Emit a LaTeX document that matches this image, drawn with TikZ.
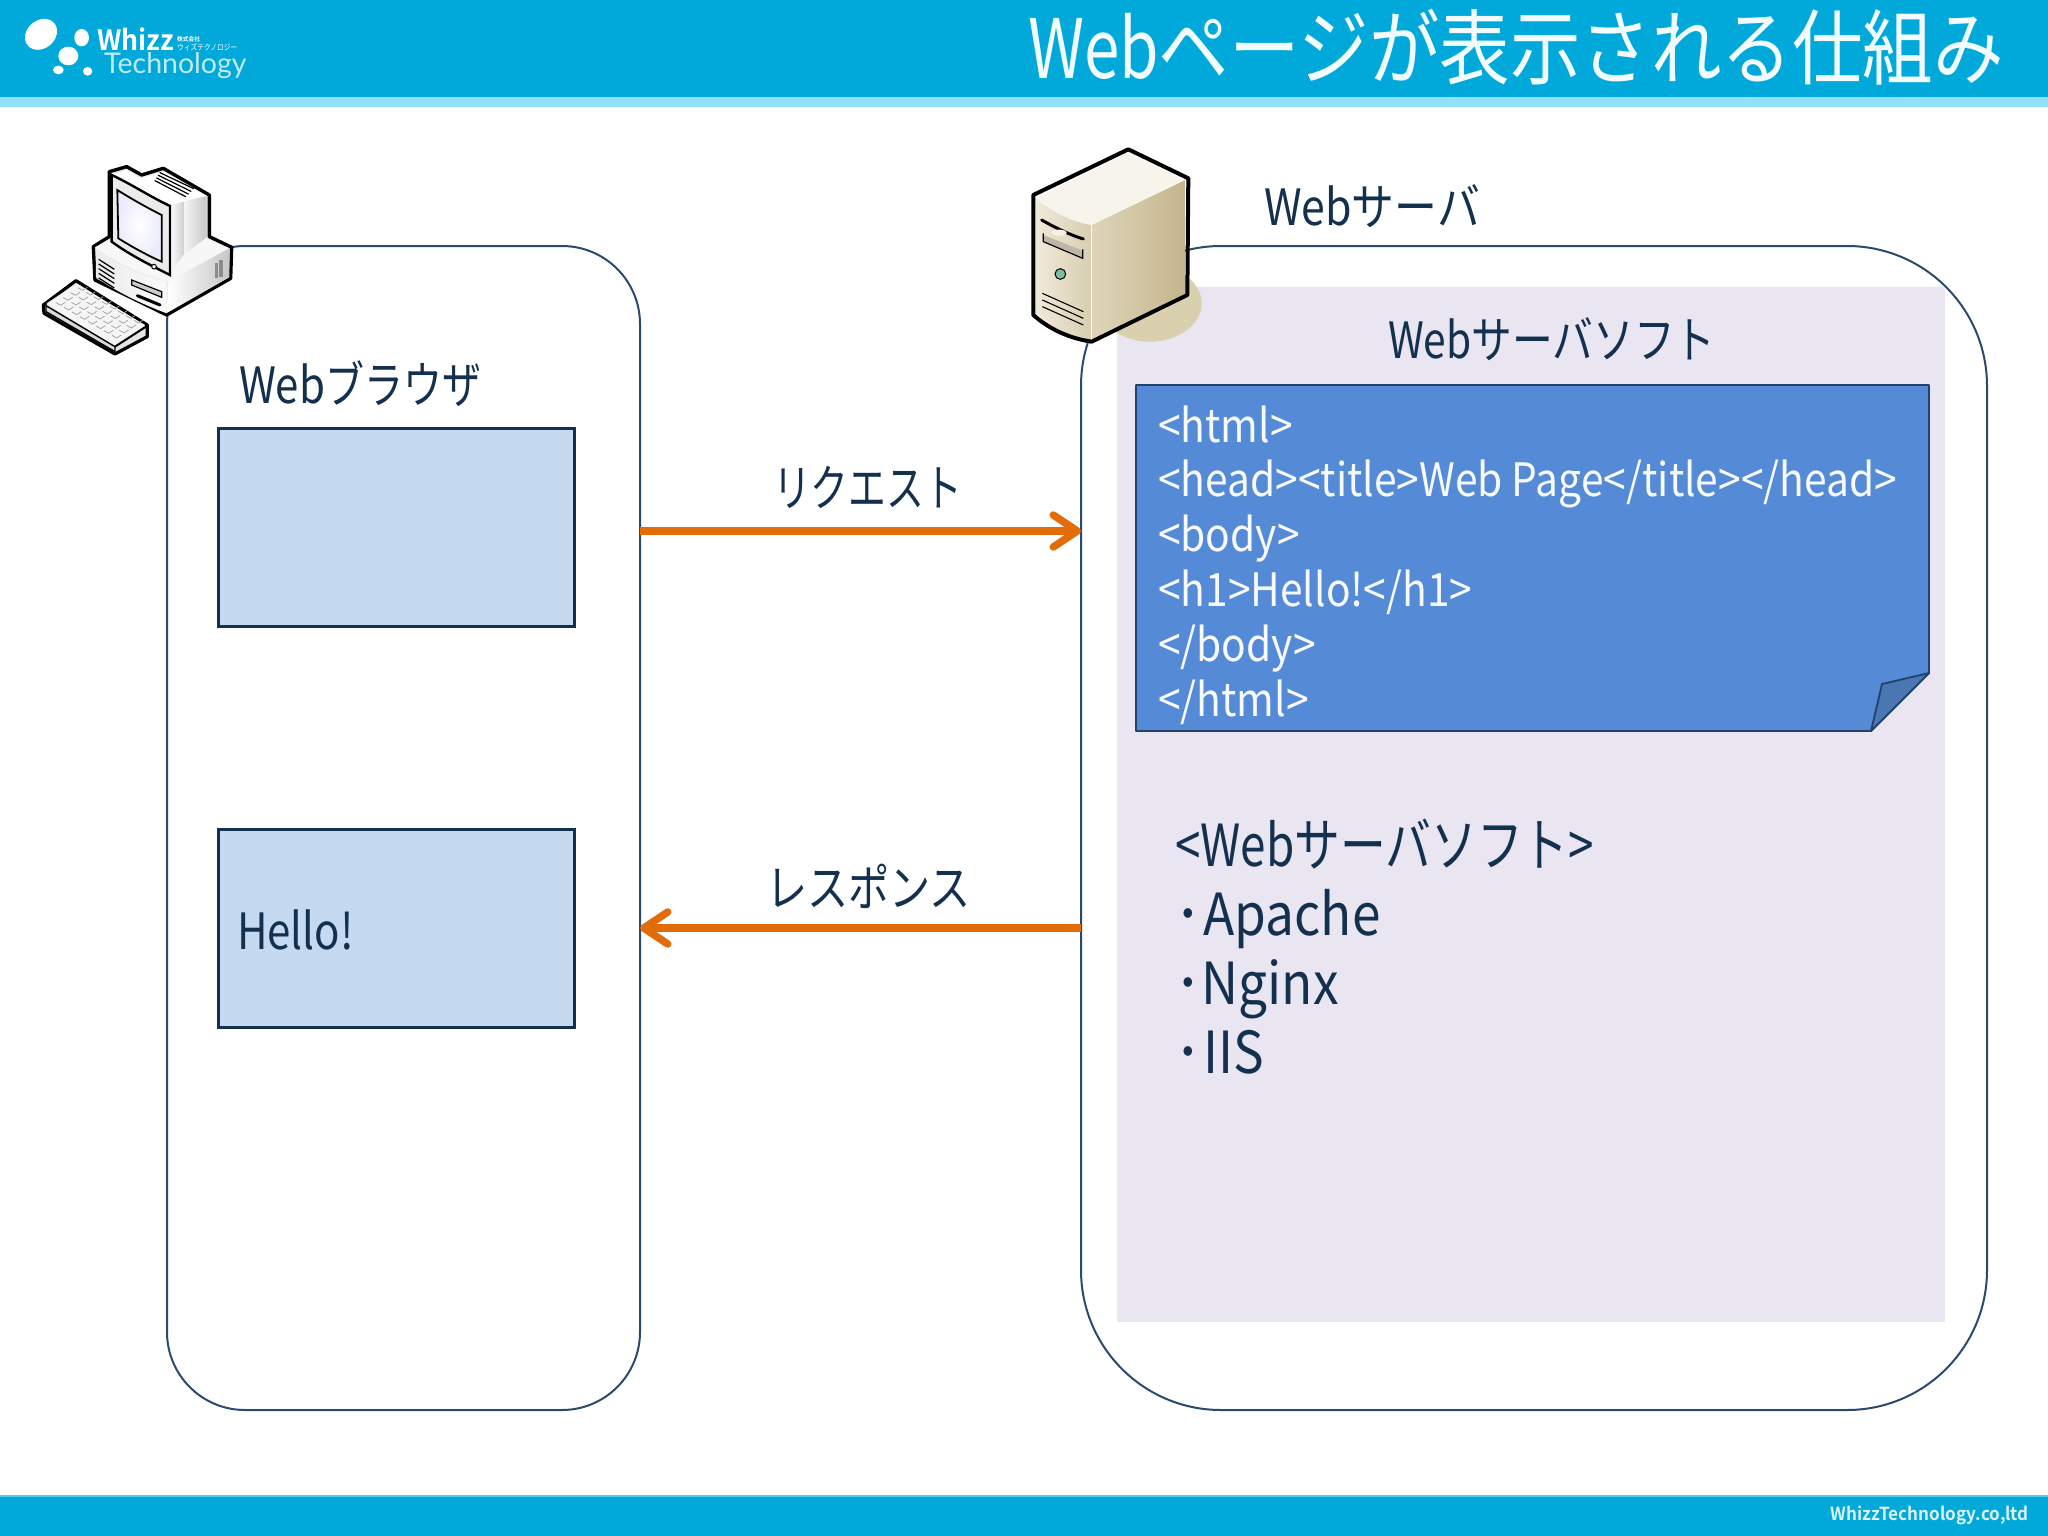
\documentclass[tikz,border=0pt]{standalone}
\usepackage{fontspec}
\usepackage{graphicx}
\usetikzlibrary{arrows.meta}
\setmainfont{Noto Sans CJK JP}
\newfontfamily\jpn[FakeStretch=0.84]{Noto Sans CJK JP}
\newfontfamily\jpk[FakeStretch=0.78]{Noto Sans CJK JP}
\newfontfamily\jpl[FakeStretch=0.76]{Noto Sans CJK JP}
\newfontfamily\jpc[FakeStretch=0.885]{Noto Sans CJK JP}
\newfontfamily\jpnb[FakeStretch=0.95]{Noto Sans CJK JP Bold}
\newfontfamily\logof{Lato}
\definecolor{hdr}{HTML}{00A9DA}
\definecolor{band}{HTML}{8FE1FF}
\definecolor{ink}{HTML}{14304F}
\definecolor{edge}{HTML}{2B4A6F}
\definecolor{lav}{HTML}{E9E6F2}
\definecolor{code}{HTML}{558BD6}
\definecolor{fold}{HTML}{4A76B2}
\definecolor{pale}{HTML}{C5D9F0}
\definecolor{org}{HTML}{E36C0A}
\tikzset{
  lab/.style={font=\jpn, text=ink, inner sep=0pt, outer sep=0pt, anchor=base west},
  zone/.style={draw=edge, line width=2pt, fill=white, inner sep=0pt, outer sep=0pt},
  pane/.style={draw=ink, line width=3pt, fill=pale, inner sep=0pt, outer sep=0pt,
    minimum width=356pt, minimum height=198pt},
  flow/.style={draw=org, line width=7.5pt, -{Straight Barb[length=24pt,width=32pt,line width=7.5pt,round]}},
  ol/.style={line width=3pt, line join=round, draw=black},
}
\begin{document}
\begin{tikzpicture}[x=1pt,y=-1pt]
\useasboundingbox (0,0) rectangle (2048,1536);
\fill[white] (0,0) rectangle (2048,1536);
% bars
\fill[hdr] (0,0) rectangle (2048,97);
\fill[band] (0,97) rectangle (2048,107);
\fill[hdr] (0,1496) rectangle (2048,1536);
\fill[band!60!hdr] (0,1495) rectangle (2048,1497);
% logo
\begin{scope}[x=0.3333pt,y=-0.3333pt]
\fill[white,rotate around={40:(123,103)}] (123,103) ellipse [x radius=52,y radius=42];
\fill[white] (245,113) ellipse [x radius=22,y radius=26];
\fill[white] (205,168) ellipse [x radius=30,y radius=28];
\fill[white] (175,210) ellipse [x radius=16,y radius=13];
\fill[white] (263,214) ellipse [x radius=14,y radius=13];
\end{scope}
\node[anchor=base west,inner sep=0pt,text=white,font=\jpnb\fontsize{28}{28}\selectfont] (whizz) at (97,51) {Whizz};
\node[anchor=base west,inner sep=0pt,text=white,font=\jpnb\fontsize{6}{6}\selectfont] (kk) at (177,42) {株式会社};
\node[anchor=base west,inner sep=0pt,text=white,font=\jpn\fontsize{8}{8}\selectfont] (kana) at (177,51) {ウィズテクノロジー};
\node[anchor=base west,inner sep=0pt,text=white!75!hdr,font=\logof\fontsize{28.5}{28.5}\selectfont] (tech) at (104,74) {Technology};
\node[lab,text=white!95!hdr,font=\jpn\fontsize{82}{82}\selectfont] (title) at (1028,79) {\scalebox{1.024}[1]{{\jpl Web}ページが表示される仕組み}};
\node[anchor=base east,inner sep=0pt,text=white!85!hdr,font=\jpnb\fontsize{18}{18}\selectfont] (foot) at (2029,1520) {WhizzTechnology.co,ltd};
% zones
\node[zone,rounded corners=78pt,minimum width=473pt,minimum height=1164pt] (browser) at (403.5,828) {};
\node[zone,rounded corners=140pt,minimum width=906pt,minimum height=1164pt] (server) at (1534,828) {};
\node[fill=lav,inner sep=0pt,minimum width=828pt,minimum height=1035pt] (soft) at (1531,804.5) {};
% server icon
\begin{scope}[shift={(1010pt,-130pt)},x=0.3333pt,y=-0.3333pt]
\fill[color={rgb,255:red,216;green,208;blue,174}] (420,520) ellipse [x radius=155,y radius=115];
\shade[left color={rgb,255:red,238;green,233;blue,218},right color={rgb,255:red,216;green,206;blue,176}]
  (78,205) .. controls (130,250) and (190,275) .. (245,285) -- (245,630) .. controls (180,620) and (120,590) .. (78,550) -- cycle;
\shade[left color={rgb,255:red,222;green,213;blue,185},middle color={rgb,255:red,233;green,226;blue,205},right color={rgb,255:red,196;green,181;blue,140}]
  (245,285) -- (525,150) -- (525,490) -- (245,628) -- cycle;
\fill[color={rgb,255:red,247;green,244;blue,235}] (78,205) -- (355,68) -- (525,150) -- (245,285) .. controls (190,275) and (130,250) .. (78,205) -- cycle;
\draw[white,line width=1pt] (245,285) -- (245,630);
\draw[line width=4pt,line join=round] (355,58) -- (535,145) -- (532,495) -- (245,635) .. controls (175,625) and (115,595) .. (70,555) -- (70,195) -- cycle;
\fill[color={rgb,255:red,190;green,183;blue,165}] (100,315) -- (218,362) -- (218,385) -- (100,335) -- cycle;
\draw[line width=1.2pt] (100,310) -- (100,335) -- (218,385) -- (218,358);
\draw[line width=3pt,line cap=round] (95,270) .. controls (130,290) and (180,315) .. (220,327);
\fill[color={rgb,255:red,248;green,243;blue,225}] (148,308) ellipse [x radius=22,y radius=9];
\fill[color={rgb,255:red,125;green,190;blue,160},draw=black,line width=1pt] (151,432) circle (16);
\foreach \dy in {0,20,40}{
 \draw[line width=1.1pt] (97,490+\dy) -- (220,545+\dy);
}
\end{scope}
% code doc
\coordinate (cNW) at (1136,385);
\coordinate (cNE) at (1929,385);
\coordinate (cR) at (1929,673);
\coordinate (cB) at (1871,731);
\coordinate (cSW) at (1136,731);
\coordinate (cF) at (1882,684);
\draw[fill=code,draw=ink!80!code,line width=1.8pt,line join=round] (cNW) -- (cNE) -- (cR) -- (cB) -- (cSW) -- cycle;
\draw[fill=fold,draw=ink!80!code,line width=1.8pt,line join=round] (cR) -- (cF) -- (cB) -- cycle;
\node[inner sep=0pt,anchor=base west,align=left,text=white!95!code,font=\jpc\fontsize{46}{54.8}\selectfont] (html) at (1158,716) {%
<html>\\ <head><title>Web Page</title></head>\\ <body>\\ <h1>Hello!</h1>\\ </body>\\ </html>};
% panes
\node[pane] (pageA) at (396,527) {};
\node[pane] (pageB) at (396,928) {};
\node[lab,font=\jpn\fontsize{50}{50}\selectfont] (hello) at (237,949) {Hello!};
% labels
\node[lab,font=\jpn\fontsize{50}{50}\selectfont] (lb) at (239,403) {Web{\jpk ブラウザ}};
\node[lab,font=\jpn\fontsize{50}{50}\selectfont] (ls) at (1264,225) {\scalebox{1.02}[1]{Webサーバ}};
\node[lab,font=\jpn\fontsize{50}{50}\selectfont] (lw) at (1388,358) {\scalebox{.97}[1]{Webサーバソフト}};
\node[lab,font=\jpn\fontsize{50}{50}\selectfont] (lreq) at (773,506) {\scalebox{.9}[1]{リクエスト}};
\node[lab,font=\jpn\fontsize{50}{50}\selectfont] (lres) at (766,906) {\scalebox{.98}[1]{レスポンス}};
\node[lab,align=left,font=\jpc\fontsize{58}{69}\selectfont] (list) at (1175,1073) {{\jpn\scalebox{.94}[1]{<Webサーバソフト>}}\\ ･\hspace{3pt}Apache\\ ･\hspace{1pt}Nginx\\ ･\hspace{3pt}IIS};
% arrows
\coordinate (reqy) at (0,531);
\coordinate (resy) at (0,928);
\draw[flow] (browser.east |- reqy) -- (server.west |- reqy);
\draw[flow] (server.west |- resy) -- (browser.east |- resy);
% PC icon
\begin{scope}[shift={(20pt,-140pt)},x=0.3333pt,y=-0.3333pt]
\draw[ol,line width=3.4pt,fill=black!8] (268,95) -- (320,80) -- (365,105) -- (430,85) -- (568,165) -- (568,290) -- (635,322) -- (632,415) -- (440,525) -- (225,420) -- (220,320) -- (268,290) -- cycle;
% base
\fill[black!3] (225,322) -- (272,295) -- (560,295) -- (628,325) -- (445,425) .. controls (370,405) and (290,370) .. (225,322) -- cycle;
\shade[left color=white,right color=black!22] (445,425) -- (628,325) -- (628,412) -- (442,518) -- cycle;
\shade[left color=black!8,right color=black!2] (228,330) .. controls (290,375) and (370,410) .. (440,425) -- (440,520) .. controls (360,490) and (290,455) .. (228,412) -- cycle;
% monitor
\fill[white] (275,105) -- (320,90) -- (362,115) -- (430,95) -- (560,168) -- (490,185) -- (448,198) .. controls (390,170) and (330,130) .. (275,105) -- cycle;
\shade[left color=black!4,right color=black!22] (490,185) -- (560,168) -- (560,292) -- (490,345) -- cycle;
\shade[left color=white,right color=black!18] (450,198) -- (490,185) -- (490,345) -- (450,402) -- cycle;
\fill[black!8] (275,105) .. controls (330,130) and (390,170) .. (450,198) -- (450,405) .. controls (390,375) and (330,345) .. (275,305) -- cycle;
\draw[line width=2.4pt] (275,105) .. controls (330,130) and (390,170) .. (450,198) -- (450,405) .. controls (390,375) and (330,345) .. (275,305) -- cycle;
\draw[line width=1.8pt,inner color=white,outer color=black!16!blue!8!white] (292,150) .. controls (340,180) and (385,205) .. (425,225) -- (425,365) .. controls (380,345) and (335,320) .. (295,295) -- cycle;
\draw[line width=1pt,fill=white] (402,380) circle (7);
\foreach \d in {0,1,2,3}{
 \draw[line width=1.2pt,line cap=round] (405+5*\d,122-8*\d) -- (497+8*\d,170-8*\d);
}
% base vents
\foreach \d in {0,1,2,3,4}{
 \draw[line width=1.2pt] (236,358+\d*14) -- (283,388+\d*14);
}
\draw[line width=1.2pt,fill=black!20] (335,420) -- (425,455) -- (425,472) -- (335,435) -- cycle;
\draw[line width=3pt,line cap=round] (352,467) -- (420,495);
\fill[black!45] (585,368) rectangle (595,415);
\fill[black!45] (598,360) rectangle (608,410);
% keyboard
\draw[ol,line width=3.2pt,fill=black!10] (70,495) -- (168,422) -- (382,555) -- (382,590) -- (285,642) -- (72,520) -- cycle;
\fill[black!4] (80,490) -- (168,432) -- (375,555) -- (285,620) -- cycle;
\draw[line width=1.4pt,fill=black!15] (78,497) -- (285,620) -- (285,635) -- (78,515) -- cycle;
\draw[line width=2pt] (285,620) -- (378,560);
\foreach \i in {0,1,2,3,4,5,6,7}{
 \foreach \j in {0,1,2,3}{
  \draw[black!35,line width=.8pt] ({108+\i*24+\j*22},{488+\i*14-\j*15}) -- ++(14,8) -- ++(14,-9);
 }
}
\end{scope}
\end{tikzpicture}
\end{document}
